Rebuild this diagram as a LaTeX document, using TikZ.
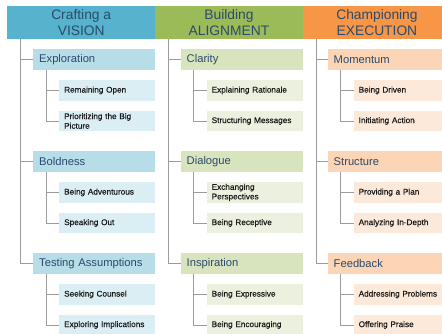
\documentclass[tikz,border=0pt]{standalone}
\usepackage{fontspec}
\setmainfont{Liberation Sans}
\newfontfamily\subfont{Liberation Sans}[FakeBold=0.35]
\definecolor{hblue}{HTML}{57B2CD}
\definecolor{hgreen}{HTML}{9BBB59}
\definecolor{horange}{HTML}{F79646}
\definecolor{cblue}{HTML}{B7DDE8}
\definecolor{cgreen}{HTML}{D7E4BD}
\definecolor{corange}{HTML}{FBD5B5}
\definecolor{sblue}{HTML}{DAEEF3}
\definecolor{sgreen}{HTML}{EBF1DE}
\definecolor{sorange}{HTML}{FDE9D9}
\definecolor{hdrtext}{HTML}{2B4A6C}
\definecolor{subtext}{HTML}{1A1A1A}
\definecolor{linegrey}{HTML}{9C9C9C}
\begin{document}
\begin{tikzpicture}[x=1pt,y=-1pt,
  hdr/.style={anchor=north west, minimum height=32.5pt, inner sep=0pt, align=center,
    font=\fontsize{13.8}{15.8}\selectfont, text=hdrtext},
  cat/.style={anchor=north west, minimum height=20.5pt, inner xsep=6pt, inner ysep=0pt,
    align=left, font=\fontsize{11.2}{13}\selectfont, text=hdrtext},
  sub/.style={anchor=north west, minimum height=20.5pt, inner xsep=5pt, inner ysep=0pt,
    align=left, font=\subfont\fontsize{8.2}{9.6}\selectfont, text=subtext},
  tree/.style={draw=linegrey, line width=0.9pt}]
\useasboundingbox (0,0) rectangle (442,333);
% ---------- Column 1 ----------
\node[hdr, fill=hblue, minimum width=148pt] (h1) at (7,6) {Crafting a\\VISION};
\node[cat, fill=cblue, text width=110pt] (c11) at (33,49) {Exploration};
\node[sub, fill=sblue, text width=86pt] (s111) at (59,80) {Remaining Open};
\node[sub, fill=sblue, text width=86pt] (s112) at (59,110.5) {Prioritizing the Big\\Picture};
\node[cat, fill=cblue, text width=110pt] (c12) at (33,151) {Boldness};
\node[sub, fill=sblue, text width=86pt] (s121) at (59,182) {Being Adventurous};
\node[sub, fill=sblue, text width=86pt] (s122) at (59,212.5) {Speaking Out};
\node[cat, fill=cblue, text width=110pt] (c13) at (33,253) {\mbox{Testing Assumptions}};
\node[sub, fill=sblue, text width=86pt] (s131) at (59,284) {Seeking Counsel};
\node[sub, fill=sblue, text width=86pt] (s132) at (59,314.5) {Exploring Implications};
% ---------- Column 2 ----------
\node[hdr, fill=hgreen, minimum width=147.5pt] (h2) at (155,6) {Building\\ALIGNMENT};
\node[cat, fill=cgreen, text width=110pt] (c21) at (180.5,49) {Clarity};
\node[sub, fill=sgreen, text width=86pt] (s211) at (206.5,80) {Explaining Rationale};
\node[sub, fill=sgreen, text width=86pt] (s212) at (206.5,110.5) {Structuring Messages};
\node[cat, fill=cgreen, text width=110pt] (c22) at (180.5,151) {Dialogue};
\node[sub, fill=sgreen, text width=86pt] (s221) at (206.5,182) {Exchanging\\Perspectives};
\node[sub, fill=sgreen, text width=86pt] (s222) at (206.5,212.5) {Being Receptive};
\node[cat, fill=cgreen, text width=110pt] (c23) at (180.5,253) {Inspiration};
\node[sub, fill=sgreen, text width=86pt] (s231) at (206.5,284) {Being Expressive};
\node[sub, fill=sgreen, text width=86pt] (s232) at (206.5,314.5) {Being Encouraging};
% ---------- Column 3 ----------
\node[hdr, fill=horange, minimum width=148.5pt] (h3) at (302.5,6) {Championing\\EXECUTION};
\node[cat, fill=corange, text width=111.5pt] (c31) at (327.5,49) {Momentum};
\node[sub, fill=sorange, text width=87.5pt] (s311) at (353.5,80) {Being Driven};
\node[sub, fill=sorange, text width=87.5pt] (s312) at (353.5,110.5) {Initiating Action};
\node[cat, fill=corange, text width=111.5pt] (c32) at (327.5,151) {Structure};
\node[sub, fill=sorange, text width=87.5pt] (s321) at (353.5,182) {Providing a Plan};
\node[sub, fill=sorange, text width=87.5pt] (s322) at (353.5,212.5) {Analyzing In-Depth};
\node[cat, fill=corange, text width=111.5pt] (c33) at (327.5,253) {Feedback};
\node[sub, fill=sorange, text width=87.5pt] (s331) at (353.5,284) {Addressing Problems};
\node[sub, fill=sorange, text width=87.5pt] (s332) at (353.5,314.5) {Offering Praise};
% ---------- Tree lines ----------
\foreach \c in {1,2,3}{
  \coordinate (t\c) at ([xshift=13.5pt]h\c.south west);
  \draw[tree] (t\c) |- (c\c3.west);
  \draw[tree] (t\c |- c\c1.west) -- (c\c1.west);
  \draw[tree] (t\c |- c\c2.west) -- (c\c2.west);
  \foreach \k in {1,2,3}{
    \coordinate (u\c\k) at ([xshift=13pt]c\c\k.south west);
    \draw[tree] (u\c\k) |- (s\c\k2.west);
    \draw[tree] (u\c\k |- s\c\k1.west) -- (s\c\k1.west);
  }
}
\end{tikzpicture}
\end{document}
